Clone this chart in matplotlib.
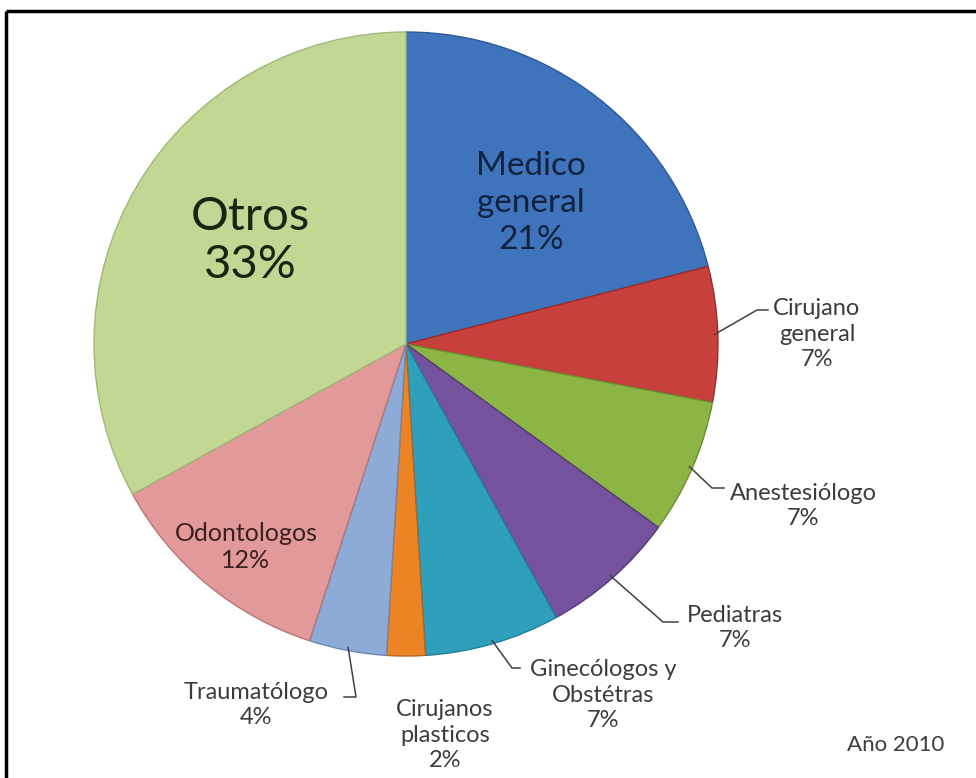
import matplotlib.pyplot as plt
import numpy as np

# share of specialists, year 2010
categories = ["Medico\ngeneral", "Cirujano\ngeneral", "Anestesiólogo", "Pediatras",
              "Ginecólogos y\nObstétras", "Cirujanos\nplasticos", "Traumatólogo",
              "Odontologos", "Otros"]
percentages = [21, 7, 7, 7, 7, 2, 4, 12, 33]
colors = ["#3f74bd", "#c8403c", "#8db545", "#74539c", "#2fa0bc",
          "#ec8425", "#8eaad6", "#e19a99", "#c2d794"]
edge_colors = ["#2c5a98", "#9c2c2a", "#6c8e30", "#553a78", "#1f7f98",
               "#b8621a", "#6d88b4", "#b87574", "#a0b878"]

W, H = 976, 778
fig = plt.figure(figsize=(W / 100, H / 100), dpi=100)
ax = fig.add_axes([0, 0, 1, 1])
ax.set_xlim(0, W)
ax.set_ylim(0, H)
ax.set_aspect("equal")
ax.axis("off")

cx, cy, r = 406, H - 344, 312
wedges, _ = ax.pie(percentages, colors=colors, startangle=90, counterclock=False,
                   center=(cx, cy), radius=r,
                   wedgeprops=dict(linewidth=1.0))
for w, ec in zip(wedges, edge_colors):
  w.set_edgecolor(ec)
ax.set_xlim(0, W)
ax.set_ylim(0, H)

font = ["Lato", "DejaVu Sans"]
txt = "#3c3c3c"

def label(x, y, s, size, color=txt, spacing=1.25):
  ax.text(x, H - y, s, fontsize=size, color=color, ha="center", va="center",
          family=font, linespacing=spacing)

# labels, with the value in each line block
label(531, 203, f"{categories[0]}\n{percentages[0]}%", 24, color="#10233f", spacing=1.3)
label(250, 241, f"{categories[8]}\n{percentages[8]}%", 34, color="#1a2410", spacing=1.15)
label(246, 547, f"{categories[7]}\n{percentages[7]}%", 18, color="#3a2020", spacing=1.25)
label(817, 334, f"{categories[1]}\n{percentages[1]}%", 17)
label(803, 506, f"{categories[2]}\n{percentages[2]}%", 17)
label(735, 628, f"{categories[3]}\n{percentages[3]}%", 17)
label(603, 695, f"{categories[4]}\n{percentages[4]}%", 17)
label(445, 735, f"{categories[5]}\n{percentages[5]}%", 17)
label(256, 705, f"{categories[6]}\n{percentages[6]}%", 17)
label(896, 745, "Año 2010", 16)

# leader lines: from wedge edge to an elbow, then a short horizontal run
angles = 90 - np.cumsum([0] + percentages) * 3.6
mids = (angles[:-1] + angles[1:]) / 2
leaders = {1: [(757, 310), (768, 310)],
           2: [(712, 488), (724, 488)],
           3: [(663, 622), (678, 622)],
           4: [(512, 668), (520, 668)],
           6: [(356, 697), (344, 697)]}
for i, pts in leaders.items():
  a = np.radians(mids[i])
  x0, y0 = cx + r * 0.99 * np.cos(a), cy + r * 0.99 * np.sin(a)
  xs = [x0] + [p[0] for p in pts]
  ys = [y0] + [H - p[1] for p in pts]
  ax.plot(xs, ys, color="#404040", linewidth=1.1)

# frame around the chart
ax.plot([6, 6], [0, H - 11], color="black", linewidth=2.5, solid_capstyle="butt")
ax.plot([6, W], [H - 11, H - 11], color="black", linewidth=2.5, solid_capstyle="butt")

fig.savefig("out.png", dpi=100)
